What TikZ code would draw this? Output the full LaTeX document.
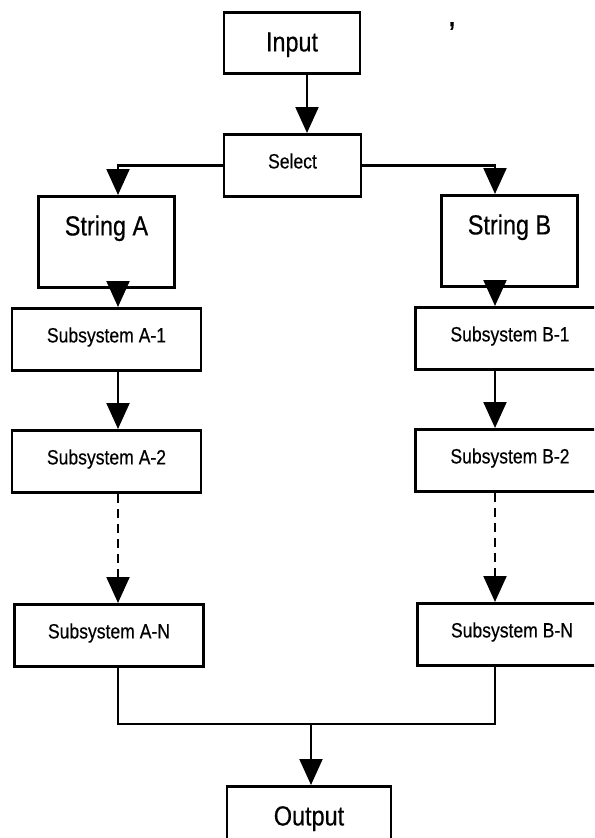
\documentclass[tikz,border=0pt]{standalone}
\usepackage{fontspec}
\setmainfont{Liberation Sans}[FakeStretch=0.85, FakeBold=0.4]
\usetikzlibrary{arrows.meta}

\newcommand{\bigtxt}{\fontsize{19.6}{22}\selectfont}
\newcommand{\subtxt}{\fontsize{14.7}{17}\selectfont}

\tikzset{
    box/.style={draw, line width=2pt, inner sep=0pt},
    bigbox/.style={box, font=\bigtxt, minimum width=3.4cm, text height=0.975cm, text depth=1.3cm},
    subbox/.style={box, font=\subtxt, minimum width=4.725cm, text height=0.85cm, text depth=0.7cm},
    flow/.style={line width=2pt, -{Triangle[length=0.65cm, width=0.57cm]}},
}

\begin{document}
\begin{tikzpicture}[x=0.025cm, y=-0.025cm]
    \useasboundingbox (0,0) rectangle (594,838);
    \clip (0,0) rectangle (594,838);

    % top: input and selector
    \node[box, anchor=north, font=\bigtxt, minimum width=3.4cm, text height=0.975cm, text depth=0.55cm] (input) at (292,11) {Input};
    \node[box, anchor=north, font=\subtxt, minimum width=3.425cm, text height=0.85cm, text depth=0.7cm] (select) at (292.5,133) {Select};
    \node[anchor=base, inner sep=0pt, font=\bfseries\fontsize{18}{18}\selectfont] (tick) at (452,26) {,};

    % the two strings
    \node[bigbox, anchor=north] (strA) at (106.5,195) {String A};
    \node[bigbox, anchor=north] (strB) at (509.5,194) {String B};

    \node[subbox, anchor=north] (subA1) at (106.5,307) {Subsystem A-1};
    \node[subbox, anchor=north] (subA2) at (106.5,429) {Subsystem A-2};
    \node[subbox, anchor=north] (subAN) at (109,603) {Subsystem A-N};

    \node[subbox, anchor=north] (subB1) at (510,306) {Subsystem B-1};
    \node[subbox, anchor=north] (subB2) at (510,428) {Subsystem B-2};
    \node[subbox, anchor=north] (subBN) at (512,602) {Subsystem B-N};

    \node[bigbox, anchor=north, minimum width=4.1cm] (output) at (309,785) {Output};

    % columns the arrows run along
    \coordinate (inx) at (307,0);
    \coordinate (colA) at (118,0);
    \coordinate (colB) at (495,0);
    \coordinate (join) at (311,724);

    \draw[flow] (input.south -| inx) -- (select.north -| inx);
    \draw[flow] (select.west) -| (strA.north -| colA);
    \draw[flow] (select.east) -| (strB.north -| colB);

    \draw[flow] (strA.south -| colA) -- (subA1.north -| colA);
    \draw[flow] (subA1.south -| colA) -- (subA2.north -| colA);
    \draw[flow, dash pattern=on 0.225cm off 0.15cm] (subA2.south -| colA) -- (subAN.north -| colA);

    \draw[flow] (strB.south -| colB) -- (subB1.north -| colB);
    \draw[flow] (subB1.south -| colB) -- (subB2.north -| colB);
    \draw[flow, dash pattern=on 0.225cm off 0.15cm] (subB2.south -| colB) -- (subBN.north -| colB);

    % merge into the output
    \draw[line width=2pt] (subAN.south -| colA) |- (join) -| (subBN.south -| colB);
    \draw[flow] (join) -- (output.north -| join);
\end{tikzpicture}
\end{document}
